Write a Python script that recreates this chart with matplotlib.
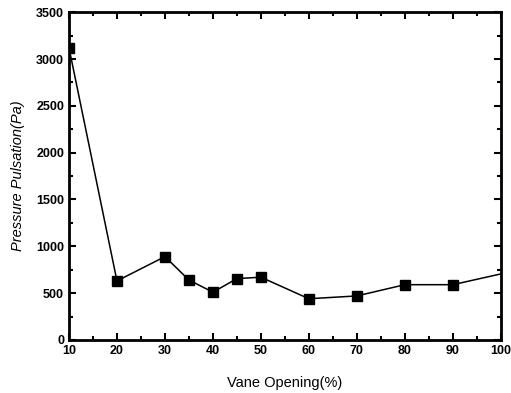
import matplotlib.pyplot as plt
from matplotlib.ticker import MultipleLocator

# vane opening (%) vs pressure pulsation (Pa)
opening = [10, 20, 30, 35, 40, 45, 50, 60, 70, 80, 90, 100]
pulsation = [3120, 630, 890, 640, 510, 655, 670, 440, 470, 590, 590, 705]

plt.rcParams['font.family'] = ['Liberation Sans', 'DejaVu Sans']

fig = plt.figure(figsize=(5.11, 3.93), dpi=100)
ax = fig.add_axes([0.135, 0.135, 0.845, 0.834])

ax.plot(opening, pulsation, color='black', lw=1.1, marker='s', ms=7,
        markevery=list(range(len(opening) - 1)))

ax.set_xlim(10, 100)
ax.set_ylim(0, 3500)
ax.xaxis.set_major_locator(MultipleLocator(10))
ax.xaxis.set_minor_locator(MultipleLocator(5))
ax.yaxis.set_major_locator(MultipleLocator(500))
ax.yaxis.set_minor_locator(MultipleLocator(250))

ax.tick_params(which='both', top=True, right=True, width=1.5)
ax.tick_params(which='major', direction='in', length=5, labelsize=9)
ax.tick_params(which='minor', direction='in', length=3)
for lab in ax.get_xticklabels() + ax.get_yticklabels():
    lab.set_fontweight('bold')

for s in ax.spines.values():
    s.set_linewidth(2)

ax.set_xlabel('Vane Opening(%)', fontsize=10.5, labelpad=14)
ax.set_ylabel('Pressure Pulsation(Pa)', fontsize=10.5, style='italic', labelpad=8)

plt.savefig('out.png', dpi=100)
